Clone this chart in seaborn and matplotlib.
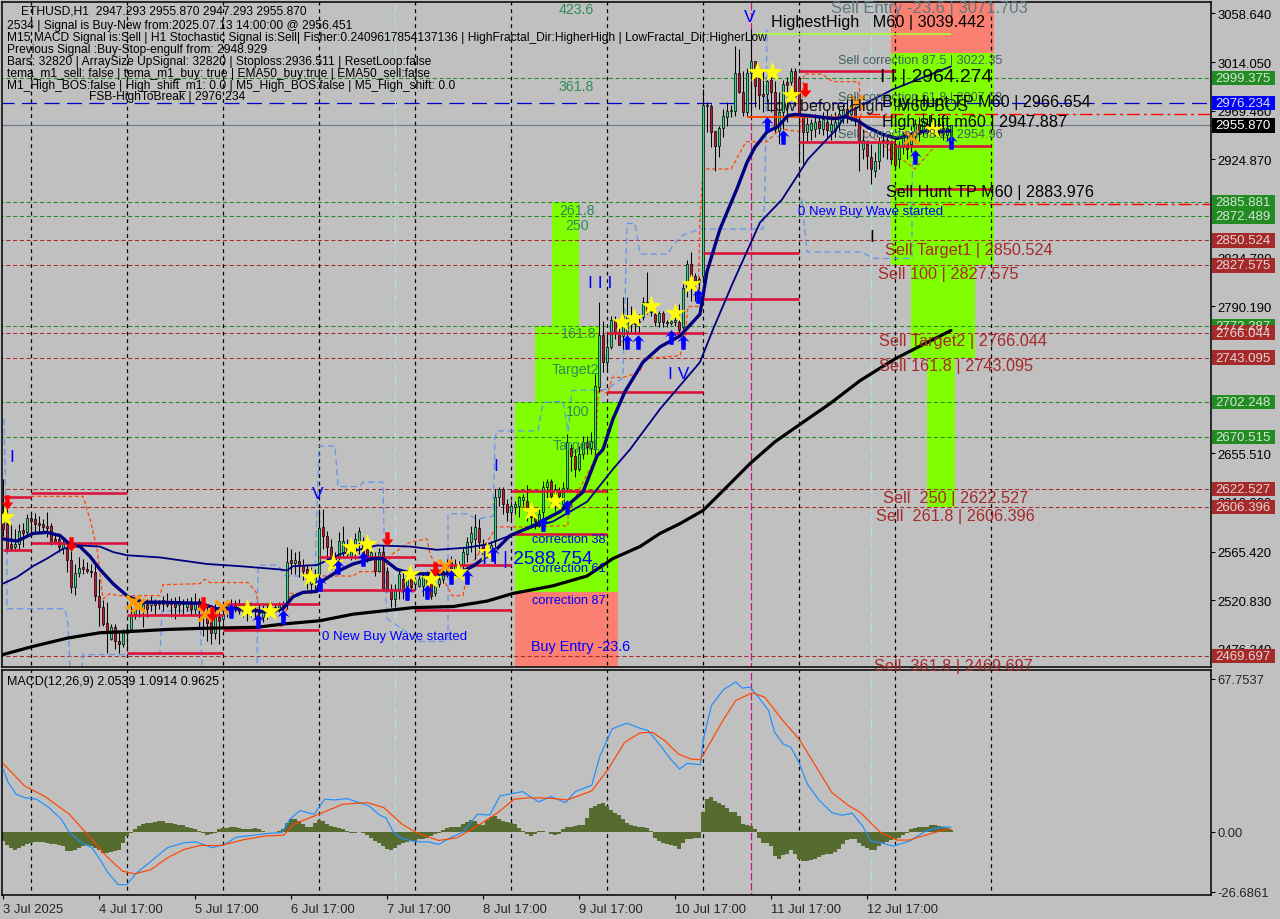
import numpy as np
import matplotlib
matplotlib.use("Agg")
import matplotlib.pyplot as plt
from matplotlib.path import Path
from matplotlib.patches import Rectangle
from matplotlib.transforms import blended_transform_factory
import seaborn as sns

# H1 candles
opens = [2600,2591,2572,2570,2572,2585,2583,2596,2595,2592,2591,2589,
         2589,2577,2577,2569,2568,2558,2533,2546,2551,2549,2548,2547,
         2525,2515,2500,2485,2496,2483,2481,2491,2494,2508,2514,2513,
         2517,2516,2519,2517,2517,2520,2517,2519,2516,2519,2515,2517,
         2513,2520,2516,2511,2503,2491,2505,2504,2511,2514,2518,2516,
         2511,2515,2510,2513,2511,2505,2513,2511,2515,2513,2514,2517,
         2558,2555,2557,2553,2549,2536,2538,2545,2588,2580,2570,2561,
         2561,2565,2570,2561,2566,2575,2574,2568,2561,2560,2548,2565,
         2548,2531,2522,2531,2540,2534,2540,2536,2534,2534,2545,2537,
         2527,2536,2540,2548,2556,2548,2551,2552,2563,2574,2577,2587,
         2572,2570,2566,2575,2615,2623,2609,2602,2606,2607,2613,2612,
         2605,2597,2593,2602,2625,2630,2616,2621,2609,2624,2660,2653,
         2641,2655,2666,2660,2660,2716,2764,2739,2753,2778,2767,2763,
         2767,2780,2774,2777,2780,2794,2785,2783,2776,2784,2776,2775,
         2776,2776,2771,2808,2829,2818,2812,2818,2974,2974,2951,2937,
         2954,2964,2969,2969,3004,2987,2968,3004,3015,2999,2985,2985,
         2998,2987,2951,2968,2996,2996,3006,2999,2964,2950,2952,2953,
         2960,2953,2959,2951,2951,2957,2964,2971,2966,2973,2960,2934,
         2939,2927,2914,2923,2943,2939,2941,2939,2925,2936,2943,2939,
         2946,2957,2951,2957,2953,2954,2951,2954,2947,2947.293]
closes = [2586,2569,2569,2572,2584,2582,2596,2593,2591,2590,2588,2587,
          2574,2574,2570,2574,2558,2533,2546,2550,2549,2548,2547,2525,
          2515,2499,2491,2496,2483,2481,2491,2494,2507,2514,2516,2517,
          2513,2519,2516,2519,2521,2516,2519,2515,2519,2517,2519,2513,
          2519,2515,2511,2500,2491,2505,2502,2508,2516,2517,2515,2511,
          2516,2510,2515,2511,2509,2513,2509,2515,2513,2516,2517,2556,
          2555,2558,2552,2548,2538,2544,2545,2587,2580,2570,2561,2554,
          2575,2575,2563,2568,2577,2584,2563,2561,2565,2548,2565,2531,
          2531,2522,2531,2545,2529,2546,2533,2538,2540,2543,2533,2525,
          2534,2540,2548,2554,2548,2554,2548,2565,2574,2582,2588,2574,
          2563,2568,2571,2615,2623,2609,2602,2607,2609,2615,2615,2604,
          2597,2593,2600,2625,2629,2616,2623,2616,2624,2666,2653,2641,
          2655,2666,2661,2667,2717,2764,2739,2753,2778,2767,2755,2781,
          2781,2774,2777,2776,2794,2785,2792,2776,2784,2776,2775,2777,
          2778,2768,2807,2829,2818,2812,2815,2975,2974.5,2950,2937,2954,
          2965,2969,2970,3004,2987,2968,3004,3015,2992,2984,2983,2997,
          2987,2953,2968,2994,2993,3006,2983,2965,2950,2957,2958,2959,
          2954,2962,2952,2957,2959,2966,2971,2964,2975,2960,2941,2943,
          2928,2916,2923,2941,2941,2943,2925,2920,2936,2948,2934,2948,
          2957,2948,2960,2951,2960,2950,2957,2948,2954,2955.87]
highs = [2632,2604,2591,2586,2591,2592,2600,2602,2601,2598,2595,2602,
         2592,2582,2582,2577,2572,2566,2554,2560,2559,2556,2554,2554,
         2540,2521,2519,2499,2499,2493,2494,2499,2517,2522,2522,2522,
         2522,2525,2522,2521,2525,2527,2523,2524,2525,2522,2523,2524,
         2527,2523,2522,2517,2513,2517,2511,2513,2519,2522,2521,2522,
         2518,2518,2519,2516,2517,2516,2518,2519,2517,2519,2520,2570,
         2568,2565,2566,2559,2554,2551,2549,2604,2604,2584,2577,2565,
         2583,2589,2577,2574,2582,2588,2579,2571,2570,2565,2569,2571,
         2551,2536,2536,2548,2547,2548,2548,2542,2543,2547,2548,2542,
         2538,2545,2552,2559,2561,2559,2557,2570,2579,2589,2600,2595,
         2577,2573,2575,2623,2625,2625,2614,2612,2612,2616,2618,2626,
         2609,2602,2604,2630,2632,2632,2627,2625,2629,2673,2664,2659,
         2662,2671,2671,2675,2728,2794,2777,2767,2781,2781,2774,2799,
         2799,2790,2781,2783,2799,2822,2797,2788,2786,2786,2778,2780,
         2790,2792,2811,2833,2840,2821,2817,2989,2977,2976,2951,2955,
         2971,2977,2975,3029,3026,3006,3009,3044,3015,3003,3006,3000,
         3010,2997,2987,2998,3000,3009,3009,3001,2966,2966,2962,2966,
         2965,2968,2971,2966,2968,2973,2976,2980,2982,2983,2964,2953,
         2943,2939,2932,2945,2948,2948,2943,2945,2942,2951,2950,2955,
         2962,2964,2967,2963,2966,2960,2964,2960,2958,2955.87]
lows = [2580,2565,2566,2566,2568,2570,2581,2582,2583,2582,2582,2579,
        2571,2572,2565,2563,2547,2527,2526,2542,2545,2546,2542,2520,
        2497,2497,2472,2484,2476,2472,2478,2474,2493,2504,2505,2496,
        2505,2511,2508,2513,2511,2515,2505,2504,2509,2508,2511,2507,
        2508,2494,2488,2483,2481,2485,2481,2499,2505,2511,2510,2508,
        2505,2502,2505,2504,2502,2501,2504,2508,2510,2510,2508,2513,
        2545,2545,2542,2539,2531,2529,2531,2536,2568,2556,2552,2548,
        2557,2561,2560,2558,2559,2563,2556,2556,2558,2543,2547,2529,
        2528,2515,2515,2522,2522,2528,2531,2531,2533,2525,2527,2522,
        2525,2533,2537,2542,2540,2542,2544,2548,2556,2565,2559,2566,
        2559,2560,2559,2570,2607,2600,2593,2594,2600,2597,2607,2593,
        2589,2586,2588,2593,2614,2609,2603,2607,2604,2620,2639,2634,
        2639,2650,2655,2655,2655,2712,2730,2731,2751,2760,2755,2751,
        2763,2767,2765,2765,2778,2783,2781,2772,2771,2771,2771,2773,
        2772,2763,2769,2799,2795,2795,2806,2815,2950,2936,2914,2927,
        2945,2955,2964,2965,2986,2965,2964,2962,2973,2971,2968,2977,
        2968,2950,2939,2953,2959,2980,2974,2922,2921,2941,2943,2945,
        2948,2947,2945,2943,2945,2951,2958,2958,2960,2955,2914,2925,
        2916,2902,2909,2916,2927,2925,2921,2915,2917,2930,2925,2932,
        2940,2942,2946,2945,2948,2946,2947,2943,2942,2947.293]

# moving averages, vertices along the bar axis
fast_x = [0,3.5,7.5,11,14.25,16.75,19.25,21.75,24.25,27.5,31.25,35,39.25,49.25,53.5,59.25,66,70,72.5,75,78.5,
          79.25,83.5,87.5,92.5,95,98.5,102.5,106.75,113.5,117.5,123.5,126.75,132.5,139.25,145,148.5,150,152.5,
          155.5,160,164.25,169.25,174.25,176,179.25,183.5,186,188,191,193.75,196.25,198,201.25,208,210.5,213.75,
          216.25,219.75,223.5,227.5,230.5,233.75,237]
fast_y = [2577,2575,2582,2583,2580,2572,2570,2561,2549,2536,2524,2519,2519,2518,2513,2513,2510,2513,2524,2528,2529,
          2537,2547,2554,2559,2559,2549,2545,2545,2545,2552,2568,2580,2589,2602,2620,2653,2659,2687,
          2712,2739,2753,2763,2783,2822,2861,2898,2922,2936,2950,2955,2965,2966,2965,2962,2964,2960,
          2954,2948,2944,2948,2951,2950,2951]
mid_x = [0,3.5,7.5,11,15,19.25,24.25,27.5,31,39.25,51,59.25,69.25,71,72.5,78.5,84.25,90,93.5,101.75,108.5,116,121,
         126.75,132.5,137.5,146,152.5,156.75,164.25,174.25,177.5,182.5,189.25,194.75,201.25,208,211.25,222.5,237]
mid_y = [2536,2542,2552,2559,2568,2571,2570,2565,2562,2560,2554,2552,2549,2548,2552,2553,2563,2568,2571,2570,2567,2569,2572,
         2580,2588,2593,2611,2641,2659,2696,2739,2769,2812,2867,2888,2925,2951,2968,2989,3010]
slow_x = [0,7,16,24.25,31,41,49.25,63.5,70,79.25,87.5,102.5,112.5,121,127.5,137.5,146,152.5,159.25,164.25,169.25,
          175,180.5,186.75,193,199.25,206.75,214.25,223,230.5,237]
slow_y = [2471,2478,2486,2491,2492,2494,2495,2496,2499,2502,2508,2514,2515,2520,2527,2534,2543,2559,2570,2582,2591,
          2603,2623,2646,2666,2682,2701,2722,2742,2756,2768]

# stepped channels
chan_x = [.25,1,1,15.5,16.25,16.75,19.75,20,39.25,39.75,48.75,49.25,49.75,63.5,63.75,68.75,70.5,78,79,83,83.75,89.25,90,95,
          95.5,96,104.25,111.25,111.25,116,118.5,122.5,123,123.5,133.75,135,140,141.25,142.25,151,155,156,158,159.25,
          166.25,167.25,169.75,174.25,190,190.5,191]
chan_y = [2687,2563,2513,2513,2499,2458,2458,2471,2471,2511,2511,2506,2458,2458,2553,2553,2543,2543,2662,2662,2625,2625,2629,2629,
          2538,2504,2483,2483,2600,2600,2595,2598,2669,2676,2676,2702,2703,2675,2713,2714,2725,2866,2866,2838,
          2838,2845,2855,2861,2861,2898,3044]
chan2_x = [199.75,201,214.25,218,227.25,227.25,227.5]
chan2_y = [2888,2840,2840,2834,2834,2891,2950]
step_x = [7,20,21.75,23.5,25,26.75,28.5,39.25,40,49.25,50.5,51.75,61.25,63.5,63.5,64.25,70,71.75,78,80,87.5,89.25,95,97.25,
          101.75,106,106.75,112.25,115,116.25,123.5,129.25,141.25,141.25,148,148.5,148.75,151.25,152.25,155,159.25,160,
          169.25,169.75,170.5,171.25,173.75,174.25,175,182,185.75,191,194.25,199.25,200.25,204.75,207.5,214,214.5,214.5,228,233]
step_y = [2616,2616,2595,2568,2522,2527,2525,2525,2535,2536,2540,2537,2537,2527,2504,2497,2497,2527,2527,2543,2543,2547,2547,2563,
          2574,2577,2563,2525,2525,2549,2588,2588,2589,2602,2650,2684,2714,2710,2725,2725,2730,2742,
          2745,2751,2763,2790,2790,2870,2916,2916,2941,2941,2953,2950,3003,3003,2996,2996,2966,2953,2916,2937]

# signal markers
star_x = [.5,61,66.75,76.75,82.5,87,91,101.75,107,113.75,121,132,138,154.75,157.75,162,168,172,188.5,192.25,197,232.5]
star_y = [2597,2513,2511,2542,2555,2570,2572,2545,2540,2547,2565,2603,2612,2776,2779,2790,2784,2811,3005,3005,2984,2953]
up_x = [57,63.75,70,79.25,83.75,90,101,106,112,116,122.5,135,141,156,158.75,167,170,173.75,191,195,228,237]
up_y = [2511,2502,2505,2536,2551,2559,2527,2528,2542,2542,2563,2591,2606,2757,2757,2762,2757,2800,2957,2945,2927,2941]
down_x = [1,17,50,52.25,96,108,200.5]
down_y = [2611,2572,2517,2508,2577,2549,2988]
cross_x = [32.5,33.75,50.5,54.75,110.5,213.5,227]
cross_y = [2519,2516,2508,2515,2552,2977,2945]

# red swing segments
seg_start = [0,7,7,0,31,31,55,55,79,79,103,103,127,127,151,151,175,175,199,199,223,223]
seg_end = [7,31,31,7,55,55,79,79,103,103,127,127,151,151,175,175,199,199,223,223,247,247]
seg_price = [2615.4,2619,2573.3,2566.9,2507.3,2472.5,2517.4,2493.5,2560.4,2530.2,2553.1,2511.9,2620.9,2581.5,
             2765.7,2711.6,2839,2796.9,3005.8,2940.7,2937.1,2897.7]

# fibo zones
lime_left = [128,133,137.25,222,227,231]
lime_right = [153.75,149.25,144,247.75,243,238]
lime_low = [2528.3,2702.248,2772.287,2827.575,2743.095,2606.396]
lime_high = [2702.248,2772.287,2885.881,3022.35,2827.575,2743.095]
salmon_left = [128,222]
salmon_right = [153.75,247.75]
salmon_low = [2455,3022.35]
salmon_high = [2528.3,3075]

green_levels = [2999.375,2885.881,2872.489,2772.287,2702.248,2670.515]
brown_levels = [2850.524,2827.575,2766.044,2743.095,2622.527,2606.396,2469.697]
price_ticks = [3058.640,3014.050,2969.460,2924.870,2879.400,2834.780,2790.190,2745.600,2700.900,2655.510,2610.900,2565.420,2520.830,2476.240]

# MACD panel
macd_x = [0,1.3,3.3,5.4,8.4,11.5,14.6,16.6,19.7,22.2,24.25,26.3,28.8,30.9,33.4,37,41.1,45.2,48.2,52.3,55.4,58.4,62.5,66.6,69.7,
          71.7,74.25,77.8,80.4,82.9,86,89,91.6,94.1,95.7,97.7,99.8,103.3,106.4,108.9,111.5,115.1,118.6,121.7,124.25,129.9,
          133.9,137,140.6,143.1,147.2,149.25,152.3,155.9,159.25,161.3,164.35,166.9,169.15,171,174.35,175.1,177.1,180.2,
          183.2,184.8,186.8,188.85,191.4,192.9,195,197,199,201.1,204.15,207.2,209.75,212.3,214.9,216.9,219.45,222.5,226.6,
          230.7,234.75,237]
macd_y = [27.8,21.8,16.6,15.1,14.4,10.7,5.5,-.4,-4.9,-7.1,-12.3,-18.3,-23.5,-23.5,-18.3,-13.1,-7.1,-4.9,-4.5,-7.1,-5.6,-2.4,-1.6,-.7,-.4,
          5.5,9.4,7.7,14.4,14.1,14.7,12.9,11.4,7.4,6.2,-.4,-3.1,-4.5,-4.5,-5.6,-3,0,7.7,7.4,15.9,17.8,
          13.2,15.6,12.9,17.8,20.6,33.7,45.6,48.1,45.9,44.8,38.2,32.2,27.8,30.3,29.7,41.1,56,63.1,
          66.4,63.7,64.1,59.7,53.7,44.1,38.9,37.4,30.7,21.1,13.7,8.5,7.3,8.2,2.5,-4.2,-4.9,-6.4,-4.2,
          .3,2.1,2.05]
signal_x = [0,5.4,10.5,16.6,20.7,25.8,29.9,32.9,37,41.1,45.2,49.25,54.4,60.5,65.6,70.2,72.7,78.85,85,91.1,95.2,99.8,103.3,108.9,
            113.5,119.65,123.7,127.8,131.9,137,141.1,147.2,151.3,155.4,159.25,162.3,165.4,168.9,172,174.35,177.1,180.2,183.2,
            187.3,190.4,194.95,199,203.1,207.2,211.3,214.35,219.45,223.5,226.6,230.7,234.75,237]
signal_y = [30.3,20.3,15.6,7.7,-.4,-10.8,-17.5,-18.7,-16.8,-11.6,-7.9,-6.1,-6.1,-3.4,-1.9,-1.5,3.3,7.7,12.2,12.9,10.7,3.3,-.4,-3.9,
            -2.7,3.7,8.5,14.4,15.1,14.8,14.1,18.1,27.8,39.6,43.8,44.1,40.4,34.4,32.2,31.9,40.4,50,58.2,
            61.6,59.7,49.3,41.1,29.3,17.4,11.7,8.5,-.4,-3.7,-3.7,-1.5,.6,1.09]
osma = [-3.9,-5.9,-7.4,-7.9,-7.4,-6.4,-5.6,-4.9,-4.6,-4.6,-4.6,-4.9,-5.3,-5.6,-5.9,-6.4,-8.6,-8.6,-7.9,-7.1,-6.4,-5.9,-6.4,-7.4,
        -8.3,-9.4,-9.4,-9.1,-8.6,-8.2,-5.2,-1.9,-.4,1,2.5,3.3,3.7,3.9,4.3,4.6,4.6,4,3.7,3.4,3,2.8,2.2,1.6,
        1,.3,-.7,-1.5,-1.2,-.4,1,1.5,1.8,1.9,1.9,1.8,1.3,1,1.2,1.5,1,.15,-.1,-.1,-.1,.3,1,4,
        5.8,5.5,4.8,3.3,2.1,2.1,3.7,5,4.8,3.3,2.5,2.1,1.5,1,.3,-.4,-.4,0,-.4,-1.5,-2.7,-3.9,-4.9,-6.4,
        -7.6,-7.9,-7.1,-6.1,-5.2,-4.6,-4.2,-3.9,-3.4,-3.1,-2.7,-1.9,-1.2,-.4,.7,1.8,2.2,2.1,2.2,3.3,4.5,5.2,4.8,3.3,
        3,5,6.5,6.8,5.5,4.8,4.3,4,3.6,1.8,.3,-1.2,-1.9,-.9,.15,.4,0,-1.2,-1.5,-1.2,1.3,2.2,2.1,2.5,
        2.8,3,5.9,10.7,11.4,12.2,12.9,11.4,9.5,8.5,7.4,5.5,4,3,2.5,2.2,2,1.8,.3,-3,-3.9,-4.9,-5.6,-6.1,
        -6.4,-7.6,-4.9,-3.4,-3.1,-2.7,-2.7,8.8,14.4,15.3,13.7,12.9,11.7,10.7,8.8,8.8,7,3.3,3,2.5,1.3,-2.7,-4.9,-4.9,
        -6.4,-10.8,-11.9,-10.5,-9.7,-8.3,-9.8,-12.3,-13.1,-13.1,-12.6,-12,-11.1,-10.2,-9.8,-9.8,-9.1,-7.6,-5.6,-3.7,-3.4,-3.4,-4.9,-6.4,
        -7.1,-8.3,-8.3,-6.4,-4.9,-4.6,-3.7,-3.4,-2.7,-1.5,-.4,1,1.8,2.2,2.2,2.2,2.8,2.8,2.5,1.9,1.5,.96]

day_ticks = [0,24,48,72,96,120,144,168,192,216]
day_labels = ['3 Jul 2025','4 Jul 17:00','5 Jul 17:00','6 Jul 17:00','7 Jul 17:00','8 Jul 17:00','9 Jul 17:00',
              '10 Jul 17:00','11 Jul 17:00','12 Jul 17:00']
session_lines = [7,31,55,79,103,127,151,175,199,223,247]
macd_ticks = [67.7537,0,-26.6861]
macd_labels = ['67.7537','0.00','-26.6861']

header_lines = ['2534 | Signal is Buy-New from:2025.07.13 14:00:00 @ 2956.451',
                'M15 MACD Signal is:Sell | H1 Stochastic Signal is:Sell| Fisher:0.2409617854137136 | HighFractal_Dir:HigherHigh | LowFractal_Dir:HigherLow',
                'Previous Signal :Buy-Stop-engulf from: 2948.929',
                'Bars: 32820 | ArraySize UpSignal: 32820 | Stoploss:2936.511 | ResetLoop:false',
                'tema_m1_sell: false | tema_m1_buy: true | EMA50_buy:true | EMA50_sell:false',
                'M1_High_BOS:false | High_shift_m1: 0.0 | M5_High_BOS:false | M5_High_shift: 0.0']

BG = '#C0C0C0'
sns.set_theme(style='white', rc={'axes.facecolor': BG, 'figure.facecolor': BG, 'axes.edgecolor': 'black',
                                 'axes.linewidth': 1.1})
plt.rcParams['font.family'] = ['Liberation Sans', 'DejaVu Sans']

fig = plt.figure(figsize=(12.8, 9.2), dpi=100)
ax = fig.add_axes([2/1280, 1-668/920, 1209/1280, 665/920])
ax2 = fig.add_axes([2/1280, 1-896/920, 1209/1280, 225/920])
bar_ids = np.arange(len(closes))


def line(target, xs, ys, color, width, style='-', order=3):
    sns.lineplot(x=xs, y=ys, sort=False, estimator=None, errorbar=None, color=color, linewidth=width,
                 linestyle=style, ax=target, legend=False, zorder=order)


def put(x, y, s, color='black', size=8, **kw):
    # layout text, placed in figure pixels
    fig.text(x/1280, 1-y/920, s, color=color, fontsize=size, va='center', **kw)


# zones behind everything
ax.bar(lime_left, np.subtract(lime_high, lime_low), bottom=lime_low, width=np.subtract(lime_right, lime_left),
       align='edge', color='#7FFF00', linewidth=0, zorder=0.5)
ax.bar(salmon_left, np.subtract(salmon_high, salmon_low), bottom=salmon_low,
       width=np.subtract(salmon_right, salmon_left), align='edge', color='#FA8072', linewidth=0, zorder=0.5)

# levels and session lines
ax.hlines(green_levels, -1, 302, color='#228B22', linewidth=0.75, linestyle=(0, (4, 2.5)), zorder=1)
ax.hlines(brown_levels, -1, 302, color='#A52A2A', linewidth=0.75, linestyle=(0, (4, 2.5)), zorder=1)
ax.hlines(2976.234, -1, 302, color='#0000CD', linewidth=0.9, linestyle=(0, (12, 6)), zorder=1)
ax.hlines(2955.87, -1, 302, color='#708090', linewidth=0.9, zorder=1)
ax.hlines([2966.654, 2883.976], [216, 223], 302, color='#FF0000', linewidth=1.0, linestyle=(0, (9, 3, 2, 3)), zorder=1)
for target in (ax, ax2):
    target.vlines(session_lines, -100, 4000, color='black', linewidth=0.9, linestyle=(0, (3, 3)), zorder=1.5)
    target.vlines([98, 217], -100, 4000, color='#B0E0E6', linewidth=0.9, linestyle=(0, (6, 2, 1, 2)), zorder=1.5)
    target.vlines(187, -100, 4000, color='#C71585', linewidth=0.9, linestyle=(0, (6, 2)), zorder=1.5)

# channels behind the candles
line(ax, chan_x, chan_y, '#6495ED', 0.9, (0, (5, 3)), 2)
line(ax, chan2_x, chan2_y, '#6495ED', 0.9, (0, (5, 3)), 2)
line(ax, step_x, step_y, '#FF4500', 0.9, (0, (3, 2)), 2)

# candles
opens_a, closes_a = np.array(opens), np.array(closes)
rising = closes_a >= opens_a
ax.vlines(bar_ids, lows, highs, color='black', linewidth=0.75, zorder=3)
ax.bar(bar_ids[rising], (closes_a-opens_a)[rising], bottom=opens_a[rising], width=0.72, color='#2EE080',
       edgecolor='black', linewidth=0.5, zorder=3.2)
ax.bar(bar_ids[~rising], (closes_a-opens_a)[~rising], bottom=opens_a[~rising], width=0.72, color='#D01030',
       edgecolor='black', linewidth=0.5, zorder=3.2)

# swings
ax.hlines(seg_price, seg_start, seg_end, color='#DC143C', linewidth=1.9, zorder=4)
ax.hlines(2963.6, 186, 223, color='#FF4500', linewidth=1.4, zorder=4)
ax.hlines(3039.442, 188, 237, color='#ADFF2F', linewidth=1.2, zorder=4)
ax.hlines(2950.5, 215.5, 235.5, color='white', linewidth=1.0, linestyle=(0, (4, 2)), zorder=4)

line(ax, slow_x, slow_y, 'black', 2.3, '-', 4.2)
line(ax, mid_x, mid_y, '#000080', 1.3, '-', 4.3)
line(ax, fast_x, fast_y, '#000080', 2.4, '-', 4.4)

# markers
up_arrow = Path([(0, 1), (.85, .05), (.33, .3), (.3, -1), (-.3, -1), (-.33, .3), (-.85, .05), (0, 1)])
down_arrow = Path([(-.3, 1), (.3, 1), (.3, 0), (.8, 0), (0, -1), (-.8, 0), (-.3, 0), (-.3, 1)])
sns.scatterplot(x=cross_x, y=cross_y, marker='x', color='#FF9A00', s=95, linewidth=2.4, ax=ax, zorder=5, legend=False)
sns.scatterplot(x=star_x, y=star_y, marker='*', color='#FFFF00', s=240, linewidth=0, ax=ax, zorder=5.2, legend=False)
sns.scatterplot(x=up_x, y=up_y, marker=up_arrow, color='#0000FF', s=110, linewidth=0, ax=ax, zorder=5.4, legend=False)
sns.scatterplot(x=down_x, y=down_y, marker=down_arrow, color='#FF0000', s=110, linewidth=0, ax=ax, zorder=5.4, legend=False)

ax.set_xlim(-0.25, 302)
ax.set_ylim(2459.6, 3069.05)
ax.set_xticks([])
ax.yaxis.tick_right()
ax.set_yticks(price_ticks, [f'{t:.3f}' for t in price_ticks])
ax.tick_params(axis='y', length=3, width=0.8, color='black', labelsize=9.4, pad=1.5, labelcolor='black', right=True, left=False)
ax.set_xlabel('')
ax.set_ylabel('')

# boxes on the price scale
side = blended_transform_factory(ax.transAxes, ax.transData)


def price_box(price, face, txt):
    ax.add_patch(Rectangle((1.0008, price-6.6), 0.0525, 13.2, transform=side, facecolor=face, edgecolor='none',
                           clip_on=False, zorder=6))
    ax.text(1.0035, price, f'{price:.3f}', transform=side, color=txt, fontsize=9.5, va='center', clip_on=False, zorder=7)


for p in green_levels:
    price_box(p, '#228B22', '#D6E6D6')
for p in brown_levels:
    price_box(p, '#A52A2A', '#E6D6D6')
price_box(2976.234, '#0000FF', '#E0E0E0')
price_box(2955.870, '#000000', '#FFFFFF')

# MACD panel
sns.barplot(x=np.arange(len(osma)), y=osma, native_scale=True, width=0.78, color='#556B2F', saturation=1, ax=ax2,
            linewidth=0, edgecolor='none', zorder=2)
line(ax2, macd_x, macd_y, '#1E90FF', 0.85, '-', 3)
line(ax2, signal_x, signal_y, '#FF4500', 0.85, '-', 3)
ax2.set_xlim(-0.25, 302)
ax2.set_ylim(-28.06, 71.7)
ax2.yaxis.tick_right()
ax2.set_yticks(macd_ticks, macd_labels)
ax2.set_xticks(day_ticks, day_labels, ha='left')
ax2.tick_params(axis='y', length=3, width=0.8, color='black', labelsize=9.4, pad=1.5, right=True, left=False)
ax2.tick_params(axis='x', length=3, width=0.8, color='black', labelsize=9.4, pad=3, bottom=True)
ax2.set_xlabel('')
ax2.set_ylabel('')

# header block
put(21, 12, 'ETHUSD,H1  2947.293 2955.870 2947.293 2955.870', size=8.65)
for row, text in zip([26, 38, 50, 62, 74, 86], header_lines):
    put(7, row, text, size=8.65)
put(89, 97, 'FSB-HighToBreak | 2976.234', size=8.65)
put(7, 682, 'MACD(12,26,9) 2.0539 1.0914 0.9625', size=9)

# fibo texts, buy side
GREEN_TXT = '#2E8B57'
for x, y, s in [(559, 10, '423.6'), (559, 87, '361.8'), (559, 211, '261.8'), (565, 226, '250'), (561, 334, '161.8'),
                (552, 370, 'Target2'), (566, 412, '100'), (553, 446, 'Target1')]:
    put(x, y, s, GREEN_TXT, 10.2)
for x, y, s in [(532, 540, 'correction 38'), (532, 569, 'correction 61'), (532, 601, 'correction 87')]:
    put(x, y, s, '#0000FF', 9.2)
put(531, 647, 'Buy Entry -23.6', '#0000FF', 10.4)
put(322, 637, '0 New Buy Wave started', '#0000FF', 9.5)
put(798, 212, '0 New Buy Wave started', '#0000FF', 9.5)

# wave counts
for x, y, s in [(9, 458, 'I'), (312, 495, 'V'), (493, 467, 'I'), (588, 284, 'I I I'), (668, 375, 'I V'), (744, 17, 'V')]:
    put(x, y, s, '#0000FF', 12.5)
put(869, 237, 'I', 'black', 12.5)
put(482, 560, 'I I | 2588.754', '#0000FF', 13.7)
put(880, 78, 'I I | 2964.274', 'black', 13.9)

# fibo texts, sell side
SLATE = '#5E7A80'
put(831, 8, 'Sell Entry -23.6 | 3071.703', SLATE, 11.95)
put(838, 61, 'Sell correction 87.5 | 3022.35', '#3F6060', 9.1)
put(838, 98, 'Sell correction 61.8 | 3007.68', '#3F6060', 9.1)
put(838, 135, 'Sell correction 38.2 | 2954.96', '#3F6060', 9.1)
put(771, 22, 'HighestHigh   M60 | 3039.442', 'black', 11.65)
put(766, 106, 'Low before High   M60-BOS', '#1A1A1A', 11.65)
put(882, 103, 'Buy Hunt TP M60 | 2966.654', 'black', 11.65)
put(882, 122, 'High shift m60 | 2947.887', 'black', 11.65)
put(886, 192, 'Sell Hunt TP M60 | 2883.976', 'black', 11.65)
BROWN = '#A52A2A'
for x, y, s in [(885, 250, 'Sell Target1 | 2850.524'), (878, 275, 'Sell 100 | 2827.575'),
                (879, 342, 'Sell Target2 | 2766.044'), (879, 367, 'Sell 161.8 | 2743.095'),
                (883, 499, 'Sell  250 | 2622.527'), (876, 516, 'Sell  261.8 | 2606.396'),
                (874, 666, 'Sell  361.8 | 2469.697')]:
    put(x, y, s, BROWN, 11.7)

fig.savefig('out.png', dpi=100, facecolor=BG)
